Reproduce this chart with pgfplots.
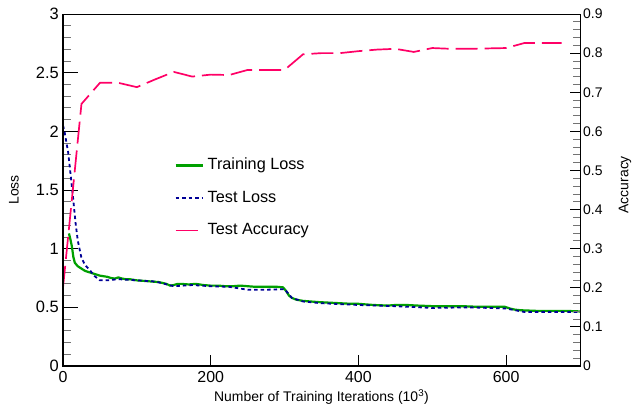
\documentclass[border=0pt]{standalone}
\usepackage{fontspec}
\setmainfont{Liberation Sans}
\usepackage{pgfplots}
\pgfplotsset{compat=1.18}

\definecolor{trgreen}{RGB}{0,160,0}
\definecolor{tsblue}{RGB}{0,0,150}
\definecolor{accpink}{RGB}{255,0,102}

\pgfplotstableread{
x y
8 1.13
10 1.08
12 1.02
14 0.93
16 0.88
20 0.85
25 0.83
30 0.81
35 0.80
40 0.79
45 0.78
50 0.77
55 0.765
60 0.76
65 0.75
70 0.745
75 0.755
80 0.745
85 0.74
90 0.74
95 0.735
100 0.73
110 0.725
120 0.72
130 0.715
140 0.70
145 0.685
150 0.69
155 0.70
160 0.70
170 0.695
180 0.70
190 0.69
200 0.685
210 0.685
220 0.68
230 0.68
240 0.685
250 0.68
260 0.675
270 0.675
280 0.675
290 0.675
298 0.67
302 0.64
306 0.60
310 0.58
316 0.565
325 0.555
335 0.55
345 0.545
360 0.54
375 0.535
390 0.53
400 0.53
420 0.52
440 0.515
450 0.52
465 0.52
480 0.515
500 0.51
520 0.51
540 0.51
560 0.505
580 0.505
598 0.505
605 0.49
612 0.48
620 0.475
640 0.47
660 0.47
680 0.47
700 0.465
}\trainloss

\pgfplotstableread{
x y
0 2.05
2 2.00
7 1.82
11 1.59
14 1.41
17 1.22
20 1.07
25 0.92
30 0.86
36 0.82
42 0.77
50 0.73
60 0.73
75 0.74
100 0.73
125 0.72
150 0.68
175 0.69
200 0.68
225 0.675
250 0.65
275 0.65
300 0.655
310 0.58
325 0.55
350 0.535
400 0.52
450 0.51
500 0.495
550 0.50
600 0.49
625 0.46
700 0.46
}\testloss

\pgfplotstableread{
x y
0 0.20
25 0.67
50 0.724
75 0.724
100 0.713
125 0.733
150 0.752
175 0.740
200 0.745
225 0.744
250 0.757
275 0.757
300 0.757
325 0.797
350 0.800
375 0.800
400 0.805
425 0.809
450 0.811
475 0.803
500 0.813
525 0.811
550 0.811
575 0.812
600 0.813
625 0.826
650 0.826
675 0.826
}\testacc

\tikzset{
 trstyle/.style={trgreen, line width=2.2bp},
 tsstyle/.style={tsblue, line width=1.8bp, dash pattern=on 3.5bp off 3bp},
 accstyle/.style={accpink, line width=1.7bp, dash pattern=on 22bp off 7bp},
}

\begin{document}
\begin{tikzpicture}
\pgfplotsset{
 common/.style={
  scale only axis, width=517bp, height=352bp,
  at={(63bp,40bp)}, anchor=south west,
  xmin=0, xmax=700,
  /pgf/number format/assume math mode=true,
  axis line style={line width=0.8bp},
  tick align=inside,
  every minor tick/.append style={black!55, line width=0.8bp},
  every major tick/.append style={black, line width=0.8bp},
 },
}
\begin{axis}[common,
  ymin=0, ymax=3,
  xtick=\empty,
  ytick={0,0.5,1,1.5,2,2.5,3},
  minor y tick num=4,
  ytick pos=left,
  major tick length=15bp,
  minor tick length=7.7bp,
  yticklabel style={font=\fontsize{16.5}{18}\selectfont, anchor=east, inner sep=0pt, xshift=-4bp},
  ylabel={Loss},
  every axis y label/.style={at={(axis description cs:-0.0948,0.5)}, rotate=90, anchor=center, font=\fontsize{14}{16}\selectfont},
  legend style={draw=none, fill=none, at={(axis cs:151,1.775)}, anchor=north west,
    inner sep=0pt, outer sep=0pt, font=\fontsize{16.3}{19}\selectfont,
    row sep=17bp, column sep=4bp,
    nodes={inner sep=0pt, text height=12bp, text depth=3.5bp}},
  legend cell align=left,
  legend image code/.code={\draw[#1] (0bp,0bp) -- (27bp,0bp);},
]
\addplot[trstyle] table {\trainloss};
\addlegendentry{Training Loss}
\addplot[tsstyle] table {\testloss};
\addlegendentry{Test Loss}
\addlegendimage{color=accpink, line width=1.9bp, dash pattern=on 22bp off 7bp}
\addlegendentry{Test Accuracy}
\end{axis}

\begin{axis}[common,
  ymin=0, ymax=0.9,
  axis x line*=bottom, axis y line*=right,
  xtick={0,200,400,600},
  minor x tick num=0,
  ytick={0,0.1,0.2,0.3,0.4,0.5,0.6,0.7,0.8,0.9},
  minor y tick num=4,
  major tick length=10.5bp,
  minor tick length=7bp,
  xticklabel style={font=\fontsize{16}{18}\selectfont, anchor=north, inner sep=0pt, yshift=-5bp},
  yticklabel style={font=\fontsize{14}{16}\selectfont, anchor=west, inner sep=0pt, xshift=3bp},
  xlabel={Number of Training Iterations (10\textsuperscript{3})},
  xlabel style={at={(axis description cs:0.5,0)}, anchor=center, yshift=-31bp, font=\fontsize{14}{16}\selectfont},
  ylabel={Accuracy},
  every axis y label/.style={at={(axis description cs:1.087,0.515)}, rotate=90, anchor=center, font=\fontsize{14}{16}\selectfont},
  after end axis/.code={\draw[line width=1.7bp] (rel axis cs:0,1) -- (rel axis cs:0,0) -- (rel axis cs:1,0);},
]
\addplot[accstyle] table {\testacc};
\end{axis}
\pgfresetboundingbox
\path (0,0) rectangle (634bp,406bp);
\end{tikzpicture}
\end{document}
